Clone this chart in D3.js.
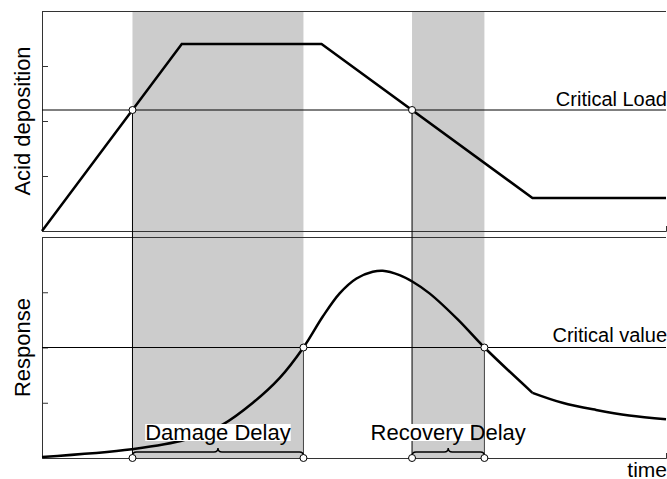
<!DOCTYPE html>
<html>
<head>
<meta charset="utf-8">
<script src="https://cdn.jsdelivr.net/npm/d3@7.9.0/dist/d3.min.js"></script>
<style>
    body { margin: 0; background: #fff; }
    text { font-family: "Liberation Sans", Arial, Helvetica, sans-serif; fill: #000; }
</style>
</head>
<body>
<div id="chart"></div>
<script>
// time runs 0..100, both panels use 0..4 on the y axis
const deposition = [
    { t: 0, v: 0 },
    { t: 22.4, v: 3.4 },
    { t: 44.8, v: 3.4 },
    { t: 78.6, v: 0.6 },
    { t: 100, v: 0.6 }
];

// response rises smoothly, then bends sharply once deposition levels off
const responseRise = [
    { t: 0, v: 0.02 }, { t: 14.4, v: 0.16 }, { t: 22.9, v: 0.33 },
    { t: 29.0, v: 0.61 }, { t: 33.8, v: 1.0 }, { t: 38.1, v: 1.45 },
    { t: 41.9, v: 2.0 }, { t: 45.0, v: 2.56 }, { t: 47.7, v: 2.98 },
    { t: 50.4, v: 3.25 }, { t: 53.0, v: 3.37 }, { t: 54.6, v: 3.39 },
    { t: 57.3, v: 3.31 }, { t: 59.4, v: 3.19 }, { t: 62.1, v: 2.98 },
    { t: 66.7, v: 2.50 }, { t: 70.9, v: 2.0 }, { t: 78.6, v: 1.18 }
];
const responseTail = [
    { t: 78.6, v: 1.18 }, { t: 83.4, v: 1.0 }, { t: 88.8, v: 0.87 },
    { t: 94.1, v: 0.77 }, { t: 100, v: 0.70 }
];

const criticalLoad = 2.2;
const criticalValue = 2.0;
const yTicks = [1, 2, 3];

const delays = [
    { label: 'Damage Delay', start: 14.5, end: 41.9 },
    { label: 'Recovery Delay', start: 59.3, end: 70.9 }
];

const width = 667;
const height = 479;

const svg = d3.select('#chart')
    .append('svg')
    .attr('width', width)
    .attr('height', height);

const x = d3.scaleLinear().domain([0, 100]).range([42, 666]);
const yTop = d3.scaleLinear().domain([0, 4]).range([231, 11]);
const yBot = d3.scaleLinear().domain([0, 4]).range([458, 237]);

// grey bands first so everything else sits on top
svg.append('g')
    .selectAll('rect')
    .data(delays)
    .join('rect')
    .attr('x', d => x(d.start))
    .attr('width', d => x(d.end) - x(d.start))
    .attr('y', yTop(4))
    .attr('height', yBot(0) - yTop(4))
    .attr('fill', '#cccccc');

// panel frames
const frameColor = '#333';
[yTop, yBot].forEach(y => {
    svg.append('g')
        .attr('transform', `translate(${x(0)},0)`)
        .call(d3.axisLeft(y).tickValues(yTicks).tickSize(-6).tickSizeOuter(0).tickFormat(''))
        .call(g => g.selectAll('path, line').attr('stroke', frameColor));

    svg.append('g')
        .attr('transform', `translate(0,${y(0)})`)
        .call(d3.axisBottom(x).tickValues([]).tickSizeOuter(-5))
        .call(g => g.selectAll('path').attr('stroke', frameColor));

    svg.append('line')
        .attr('x1', x(0)).attr('x2', x(100))
        .attr('y1', y(4) + 0.5).attr('y2', y(4) + 0.5)
        .attr('stroke', frameColor);
});

// critical lines
svg.append('line')
    .attr('x1', x(0)).attr('x2', x(100))
    .attr('y1', yTop(criticalLoad)).attr('y2', yTop(criticalLoad))
    .attr('stroke', '#000');
svg.append('line')
    .attr('x1', x(0)).attr('x2', x(100))
    .attr('y1', yBot(criticalValue)).attr('y2', yBot(criticalValue))
    .attr('stroke', '#000');

// drop lines from the crossing points to the time axis
delays.forEach(d => {
    svg.append('line')
        .attr('x1', x(d.start)).attr('x2', x(d.start))
        .attr('y1', yTop(criticalLoad)).attr('y2', yBot(0))
        .attr('stroke', '#000');
    svg.append('line')
        .attr('x1', x(d.end)).attr('x2', x(d.end))
        .attr('y1', yBot(criticalValue)).attr('y2', yBot(0))
        .attr('stroke', '#444');
});

// curves
svg.append('path')
    .datum(deposition)
    .attr('fill', 'none')
    .attr('stroke', '#000')
    .attr('stroke-width', 2.5)
    .attr('stroke-linejoin', 'miter')
    .attr('d', d3.line().x(d => x(d.t)).y(d => yTop(d.v)));

const responseLine = d3.line()
    .x(d => x(d.t))
    .y(d => yBot(d.v))
    .curve(d3.curveCatmullRom.alpha(0.5));

[responseRise, responseTail].forEach(seg => {
    svg.append('path')
        .datum(seg)
        .attr('fill', 'none')
        .attr('stroke', '#000')
        .attr('stroke-width', 2.5)
        .attr('d', responseLine);
});

// delay labels with their white boxes
delays.forEach((d, i) => {
    const cx = (x(d.start) + x(d.end)) / 2;
    const boxG = svg.append('g');
    const label = svg.append('text')
        .attr('x', cx)
        .attr('y', 440)
        .attr('text-anchor', 'middle')
        .style('font-size', '22px')
        .text(d.label);
    const bb = label.node().getBBox();
    const frac = i === 0 ? 1 : 0.65; // the recovery box only covers part of the text
    boxG.append('rect')
        .attr('x', bb.x)
        .attr('y', 424)
        .attr('width', bb.width * frac)
        .attr('height', 17)
        .attr('fill', '#fff');
});

// braces under the labels
delays.forEach(d => {
    const a = x(d.start), b = x(d.end), m = (a + b) / 2;
    const base = yBot(0) - 2, lvl = yBot(0) - 6, tip = yBot(0) - 10;
    svg.append('path')
        .attr('fill', 'none')
        .attr('stroke', '#000')
        .attr('stroke-width', 1.5)
        .attr('d', `M${a},${base} Q${a},${lvl} ${a + 4},${lvl} L${m - 4},${lvl} Q${m},${lvl} ${m},${tip} ` +
            `Q${m},${lvl} ${m + 4},${lvl} L${b - 4},${lvl} Q${b},${lvl} ${b},${base}`);
});

// crossing markers
const markers = [];
delays.forEach(d => {
    markers.push({ t: d.start, y: yTop(criticalLoad) });
    markers.push({ t: d.end, y: yBot(criticalValue) });
    markers.push({ t: d.start, y: yBot(0) });
    markers.push({ t: d.end, y: yBot(0) });
});
svg.append('g')
    .selectAll('circle')
    .data(markers)
    .join('circle')
    .attr('cx', d => x(d.t))
    .attr('cy', d => d.y)
    .attr('r', 3.5)
    .attr('fill', '#fff')
    .attr('stroke', '#000')
    .attr('stroke-width', 1);

// text
svg.append('text')
    .attr('x', 667).attr('y', 106)
    .attr('text-anchor', 'end')
    .style('font-size', '20px')
    .text('Critical Load');
svg.append('text')
    .attr('x', 667).attr('y', 342)
    .attr('text-anchor', 'end')
    .style('font-size', '20px')
    .text('Critical value');
svg.append('text')
    .attr('x', 667).attr('y', 477)
    .attr('text-anchor', 'end')
    .style('font-size', '21px')
    .text('time');
svg.append('text')
    .attr('transform', `translate(30,${(yTop(0) + yTop(4)) / 2}) rotate(-90)`)
    .attr('text-anchor', 'middle')
    .style('font-size', '22px')
    .text('Acid deposition');
svg.append('text')
    .attr('transform', `translate(30,${(yBot(0) + yBot(4)) / 2}) rotate(-90)`)
    .attr('text-anchor', 'middle')
    .style('font-size', '22px')
    .text('Response');
</script>
</body>
</html>
